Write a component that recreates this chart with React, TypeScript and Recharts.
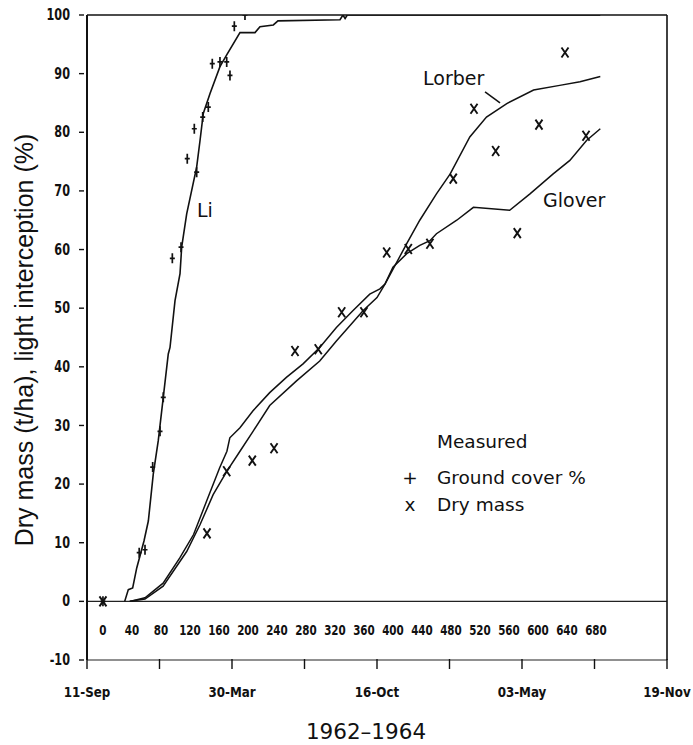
import React from 'react';
import { ComposedChart, Line, Scatter, XAxis, YAxis, ReferenceLine } from 'recharts';

// Light interception curve (days after sowing, %)
const liCurve = [
  { x: 30, y: 0 }, { x: 35, y: 2 }, { x: 41, y: 2.3 }, { x: 46.6, y: 5.7 }, { x: 56.6, y: 10.3 },
  { x: 62.6, y: 13.7 }, { x: 69.4, y: 21.7 }, { x: 76.3, y: 27.4 }, { x: 83.2, y: 34.8 },
  { x: 90.1, y: 42.2 }, { x: 92.5, y: 43.3 }, { x: 99.4, y: 51.3 }, { x: 106.3, y: 55.9 },
  { x: 108.6, y: 60.4 }, { x: 115.5, y: 66.1 }, { x: 129.3, y: 74.1 }, { x: 133.9, y: 78.6 },
  { x: 138.4, y: 83.2 }, { x: 147.7, y: 86.6 }, { x: 161.4, y: 91.2 }, { x: 170.7, y: 93.2 },
  { x: 189, y: 97 }, { x: 209.7, y: 97 }, { x: 216.6, y: 98 }, { x: 235, y: 98.3 },
  { x: 241.4, y: 99 }, { x: 327, y: 99.2 }, { x: 331, y: 100 }, { x: 334, y: 99.4 },
  { x: 337, y: 100 }, { x: 686, y: 100 },
];

// Simulated dry mass, Glover model (t/ha)
const gloverCurve = [
  { x: 37, y: 0 }, { x: 58, y: 0.6 }, { x: 83, y: 3.1 }, { x: 106, y: 7.4 }, { x: 125, y: 11.4 },
  { x: 143, y: 17.1 }, { x: 161, y: 22.8 }, { x: 171, y: 25.6 }, { x: 175, y: 27.9 },
  { x: 189, y: 29.6 }, { x: 207, y: 32.5 }, { x: 230, y: 35.6 }, { x: 253, y: 38.2 },
  { x: 276, y: 40.5 }, { x: 299, y: 43.3 }, { x: 322, y: 46.7 }, { x: 345, y: 49.6 },
  { x: 368, y: 52.4 }, { x: 382, y: 53.3 }, { x: 389, y: 54.1 }, { x: 400, y: 57 },
  { x: 419, y: 59.3 }, { x: 437, y: 60.7 }, { x: 451, y: 61.5 }, { x: 460, y: 62.7 },
  { x: 488, y: 65 }, { x: 511, y: 67.2 }, { x: 561, y: 66.7 }, { x: 589, y: 69.5 },
  { x: 621, y: 72.9 }, { x: 644, y: 75.2 }, { x: 667, y: 78.6 }, { x: 686, y: 80.6 },
];

// Simulated dry mass, Lorber model (t/ha)
const lorberCurve = [
  { x: 37, y: 0 }, { x: 58, y: 0.4 }, { x: 83, y: 2.6 }, { x: 115.5, y: 8.5 }, { x: 134, y: 13.1 },
  { x: 152, y: 18.2 }, { x: 171, y: 22.2 }, { x: 189, y: 25.6 }, { x: 207, y: 29 },
  { x: 230, y: 33.4 }, { x: 267, y: 37.6 }, { x: 299, y: 41 }, { x: 322, y: 44.4 },
  { x: 359, y: 49.6 }, { x: 378, y: 51.8 }, { x: 389, y: 54.1 }, { x: 419, y: 61 },
  { x: 437, y: 65 }, { x: 460, y: 69.5 }, { x: 479, y: 72.9 }, { x: 506, y: 79.2 },
  { x: 529, y: 82.6 }, { x: 557, y: 84.9 }, { x: 594, y: 87.2 }, { x: 630, y: 88 },
  { x: 658, y: 88.6 }, { x: 686, y: 89.5 },
];

// Measured ground cover (%)
const groundCover = [
  { x: 0, y: 0 }, { x: 50, y: 8.3 }, { x: 58, y: 8.8 }, { x: 68.6, y: 22.9 }, { x: 78.7, y: 29 },
  { x: 83.2, y: 34.8 }, { x: 95.7, y: 58.5 }, { x: 107.7, y: 60.4 }, { x: 116.3, y: 75.5 },
  { x: 126, y: 80.6 }, { x: 129.3, y: 73.2 }, { x: 137.6, y: 82.6 }, { x: 145.3, y: 84.3 },
  { x: 150.8, y: 91.7 }, { x: 161.4, y: 92 }, { x: 170.7, y: 92 }, { x: 175.2, y: 89.7 },
  { x: 181.2, y: 98.1 }, { x: 195.9, y: 100 },
];

// Measured dry mass (t/ha)
const dryMass = [
  { x: 0, y: 0 }, { x: 143.5, y: 11.6 }, { x: 170.7, y: 22.2 }, { x: 206, y: 24 }, { x: 236, y: 26.1 },
  { x: 264.9, y: 42.7 }, { x: 297, y: 43 }, { x: 329.3, y: 49.3 }, { x: 360, y: 49.3 },
  { x: 391.4, y: 59.5 }, { x: 421.2, y: 60.1 }, { x: 451, y: 61 }, { x: 483.2, y: 72.1 },
  { x: 511.8, y: 84 }, { x: 541.7, y: 76.8 }, { x: 571.5, y: 62.8 }, { x: 601.4, y: 81.3 },
  { x: 637.3, y: 93.6 }, { x: 666.3, y: 79.4 },
];

const dayNumbers = [0, 40, 80, 120, 160, 200, 240, 280, 320, 360, 400, 440, 480, 520, 560, 600, 640, 680];
const dayLabelRow = dayNumbers.map((d) => ({ x: d, y: -5 }));
const dateTicks = [-22, 78, 178, 278, 378, 478, 578, 678, 778];
const dateTickLabels = ['11-Sep', '', '30-Mar', '', '16-Oct', '', '03-May', '', '19-Nov'];
const yTicks = [-10, 0, 10, 20, 30, 40, 50, 60, 70, 80, 90, 100];

const TICK_FONT = "'DejaVu Sans', sans-serif";
const TEXT_FONT = "'DejaVu Sans', 'Liberation Sans', sans-serif";
const LABEL_FONT = "'Liberation Sans', Arial, sans-serif";

const YTick = (props: any) => {
  const { x, y, payload } = props;
  return (
    <g>
      <line x1={x - 8} x2={x - 3} y1={y} y2={y} stroke="#111" strokeWidth={1.4} />
      <text transform={`translate(${x - 17},${y}) scale(0.75,1)`} textAnchor="end" dominantBaseline="central"
        fontFamily={TICK_FONT} fontWeight="bold" fontSize={15} fill="#111">{payload.value}</text>
    </g>
  );
};

const XTick = (props: any) => {
  const { x, y, payload } = props;
  const i = dateTicks.indexOf(payload.value);
  const label = i >= 0 ? dateTickLabels[i] : '';
  return (
    <g>
      <line x1={x} x2={x} y1={y - 1} y2={y + 9} stroke="#111" strokeWidth={1.4} />
      <text transform={`translate(${x},${y + 37}) scale(0.85,1)`} textAnchor="middle" fontFamily={TICK_FONT}
        fontWeight="bold" fontSize={14} fill="#111">{label}</text>
    </g>
  );
};

const PlusShape = (props: any) => {
  const { cx, cy } = props;
  return (
    <path d={`M${cx - 2.5},${cy} H${cx + 2.5} M${cx},${cy - 5} V${cy + 5}`} stroke="#111"
      strokeWidth={1.7} fill="none" />
  );
};

const CrossShape = (props: any) => {
  const { cx, cy } = props;
  return (
    <path d={`M${cx - 3.5},${cy - 5} L${cx + 3.5},${cy + 5} M${cx + 3.5},${cy - 5} L${cx - 3.5},${cy + 5}`}
      stroke="#111" strokeWidth={1.9} fill="none" />
  );
};

const DayLabelShape = (props: any) => {
  const { cx, cy, payload } = props;
  return (
    <text transform={`translate(${cx},${cy}) scale(0.74,1)`} textAnchor="middle" dominantBaseline="central"
      fontFamily={TICK_FONT} fontWeight="bold" fontSize={14} fill="#111">{payload.x}</text>
  );
};

export default function App() {
  return (
    <div style={{ position: 'absolute', left: 0, top: 0, width: 693, height: 745, background: '#fff' }}>
      <ComposedChart width={693} height={745} margin={{ top: 15, right: 26, left: 0, bottom: 0 }}>
        <XAxis type="number" dataKey="x" domain={[-22, 778]} ticks={dateTicks} allowDataOverflow
          height={85} tickSize={0} tickMargin={0} tickLine={false} tick={<XTick />} interval={0}
          axisLine={{ stroke: '#222', strokeWidth: 1.2 }} />
        <YAxis type="number" dataKey="y" domain={[-10, 100]} ticks={yTicks} allowDataOverflow
          width={87} tickSize={0} tickMargin={0} tickLine={false} tick={<YTick />} interval={0}
          axisLine={{ stroke: '#111', strokeWidth: 2 }} />
        <ReferenceLine y={0} stroke="#222" strokeWidth={1.2} />
        <ReferenceLine y={100} stroke="#111" strokeWidth={1.6} />
        <ReferenceLine x={778} stroke="#111" strokeWidth={1.6} />
        <ReferenceLine segment={[{ x: 527, y: 86.9 }, { x: 547.7, y: 85 }]} stroke="#111" strokeWidth={1.5} />
        <Line data={liCurve} dataKey="y" type="linear" dot={false} stroke="#111" strokeWidth={1.6}
          isAnimationActive={false} />
        <Line data={gloverCurve} dataKey="y" type="linear" dot={false} stroke="#111" strokeWidth={1.5}
          isAnimationActive={false} />
        <Line data={lorberCurve} dataKey="y" type="linear" dot={false} stroke="#111" strokeWidth={1.5}
          isAnimationActive={false} />
        <Scatter data={groundCover} shape={<PlusShape />} isAnimationActive={false} />
        <Scatter data={dryMass} shape={<CrossShape />} isAnimationActive={false} />
        <Scatter data={dayLabelRow} shape={<DayLabelShape />} isAnimationActive={false} />
      </ComposedChart>
      <svg width={693} height={745} style={{ position: 'absolute', left: 0, top: 0, pointerEvents: 'none' }}>
        <text transform="translate(33,340) rotate(-90)" textAnchor="middle" fontFamily={LABEL_FONT}
          fontSize={25} fill="#111">Dry mass (t/ha), light interception (%)</text>
        <text x={366} y={739} textAnchor="middle" fontFamily={TEXT_FONT} fontSize={21.5} fill="#111">1962–1964</text>
        <text x={197} y={217} fontFamily={TEXT_FONT} fontSize={19} fill="#111">Li</text>
        <text x={423} y={85} fontFamily={TEXT_FONT} fontSize={19} fill="#111">Lorber</text>
        <text x={543} y={207} fontFamily={TEXT_FONT} fontSize={19} fill="#111">Glover</text>
        <text x={437} y={448} fontFamily={TEXT_FONT} fontSize={18.5} fill="#111">Measured</text>
        <text x={410} y={484} textAnchor="middle" fontFamily={TEXT_FONT} fontSize={18.5} fill="#111">+</text>
        <text x={437} y={484} fontFamily={TEXT_FONT} fontSize={18.5} fill="#111">Ground cover %</text>
        <text x={410} y={511} textAnchor="middle" fontFamily={TEXT_FONT} fontSize={18.5} fill="#111">x</text>
        <text x={437} y={511} fontFamily={TEXT_FONT} fontSize={18.5} fill="#111">Dry mass</text>
      </svg>
    </div>
  );
}
